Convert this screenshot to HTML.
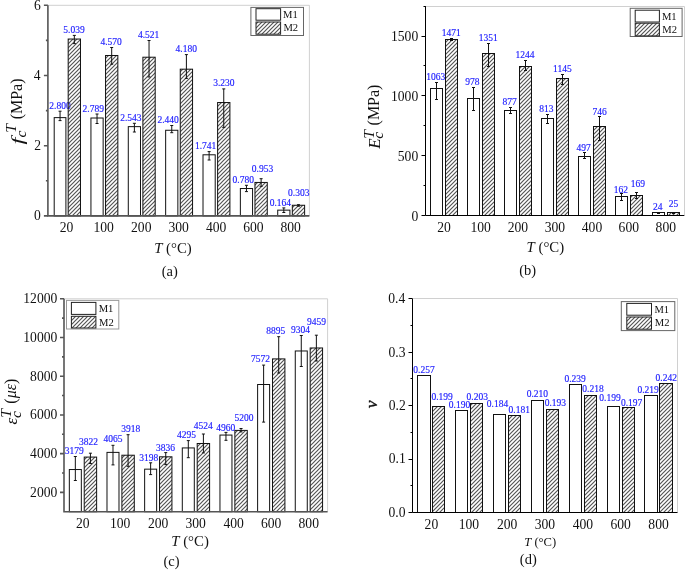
<!DOCTYPE html><html><head><meta charset="utf-8"><title>chart</title><style>html,body{margin:0;padding:0;background:#fff;overflow:hidden}svg{display:block}</style></head><body>
<svg style="will-change:transform" width="685" height="570" viewBox="0 0 685 570" font-family="Liberation Serif, serif">
<defs><pattern id="h" patternUnits="userSpaceOnUse" width="4" height="4"><path d="M-1,1 L1,-1 M0,4 L4,0 M3,5 L5,3" stroke="#555" stroke-width="1.2"/></pattern></defs>
<rect width="685" height="570" fill="#fff"/>
<g>
<path d="M47.9,5.3H309.4V215.9" fill="none" stroke="#d0d0d0" stroke-width="1"/>
<rect x="54.2" y="117.62" width="11.7" height="98.28" fill="#fff" stroke="#111" stroke-width="1"/>
<path d="M60.05,111.2V120.6M58.55,111.2h3M58.55,120.6h3" stroke="#111" stroke-width="1" fill="none"/>
<rect x="90.94" y="118.01" width="12.2" height="97.89" fill="#fff" stroke="#111" stroke-width="1"/>
<path d="M97.04,114V123.5M95.54,114h3M95.54,123.5h3" stroke="#111" stroke-width="1" fill="none"/>
<rect x="128.29" y="126.64" width="12.2" height="89.26" fill="#fff" stroke="#111" stroke-width="1"/>
<path d="M134.39,123.3V132M132.89,123.3h3M132.89,132h3" stroke="#111" stroke-width="1" fill="none"/>
<rect x="165.65" y="130.26" width="12.2" height="85.64" fill="#fff" stroke="#111" stroke-width="1"/>
<path d="M171.75,125.5V132.7M170.25,125.5h3M170.25,132.7h3" stroke="#111" stroke-width="1" fill="none"/>
<rect x="203.01" y="154.79" width="12.2" height="61.11" fill="#fff" stroke="#111" stroke-width="1"/>
<path d="M209.11,151.6V160M207.61,151.6h3M207.61,160h3" stroke="#111" stroke-width="1" fill="none"/>
<rect x="240.36" y="188.52" width="12.2" height="27.38" fill="#fff" stroke="#111" stroke-width="1"/>
<path d="M246.46,185.3V191.6M244.96,185.3h3M244.96,191.6h3" stroke="#111" stroke-width="1" fill="none"/>
<rect x="277.72" y="210.14" width="12.2" height="5.76" fill="#fff" stroke="#111" stroke-width="1"/>
<path d="M283.82,207.9V212.5M282.32,207.9h3M282.32,212.5h3" stroke="#111" stroke-width="1" fill="none"/>
<text x="49.33" y="108.79" font-size="9.5" fill="#1a1aff" stroke="#1a1aff" stroke-width="0.15">2.800</text>
<text x="82.5" y="111.59" font-size="9.5" fill="#1a1aff" stroke="#1a1aff" stroke-width="0.15">2.789</text>
<text x="120.24" y="120.83" font-size="9.5" fill="#1a1aff" stroke="#1a1aff" stroke-width="0.15">2.543</text>
<text x="157.43" y="123.29" font-size="9.5" fill="#1a1aff" stroke="#1a1aff" stroke-width="0.15">2.440</text>
<text x="194.93" y="149.42" font-size="9.5" fill="#1a1aff" stroke="#1a1aff" stroke-width="0.15">1.741</text>
<text x="232.56" y="182.99" font-size="9.5" fill="#1a1aff" stroke="#1a1aff" stroke-width="0.15">0.780</text>
<text x="269.66" y="205.99" font-size="9.5" fill="#1a1aff" stroke="#1a1aff" stroke-width="0.15">0.164</text>
<rect x="68.18" y="39.03" width="12.3" height="176.87" fill="url(#h)"/><rect x="68.18" y="39.03" width="12.3" height="176.87" fill="none" stroke="#111" stroke-width="1"/>
<path d="M74.33,35.4V43.6M72.83,35.4h3M72.83,43.6h3" stroke="#111" stroke-width="1" fill="none"/>
<rect x="105.54" y="55.49" width="12.3" height="160.41" fill="url(#h)"/><rect x="105.54" y="55.49" width="12.3" height="160.41" fill="none" stroke="#111" stroke-width="1"/>
<path d="M111.69,47.5V64.2M110.19,47.5h3M110.19,64.2h3" stroke="#111" stroke-width="1" fill="none"/>
<rect x="142.89" y="57.21" width="12.3" height="158.69" fill="url(#h)"/><rect x="142.89" y="57.21" width="12.3" height="158.69" fill="none" stroke="#111" stroke-width="1"/>
<path d="M149.04,40.5V77M147.54,40.5h3M147.54,77h3" stroke="#111" stroke-width="1" fill="none"/>
<rect x="180.25" y="69.18" width="12.3" height="146.72" fill="url(#h)"/><rect x="180.25" y="69.18" width="12.3" height="146.72" fill="none" stroke="#111" stroke-width="1"/>
<path d="M186.4,54.6V78.4M184.9,54.6h3M184.9,78.4h3" stroke="#111" stroke-width="1" fill="none"/>
<rect x="217.61" y="102.53" width="12.3" height="113.37" fill="url(#h)"/><rect x="217.61" y="102.53" width="12.3" height="113.37" fill="none" stroke="#111" stroke-width="1"/>
<path d="M223.76,88.9V127.4M222.26,88.9h3M222.26,127.4h3" stroke="#111" stroke-width="1" fill="none"/>
<rect x="254.96" y="182.45" width="12.3" height="33.45" fill="url(#h)"/><rect x="254.96" y="182.45" width="12.3" height="33.45" fill="none" stroke="#111" stroke-width="1"/>
<path d="M261.11,178.7V186.3M259.61,178.7h3M259.61,186.3h3" stroke="#111" stroke-width="1" fill="none"/>
<rect x="292.32" y="205.26" width="12.3" height="10.64" fill="url(#h)"/><rect x="292.32" y="205.26" width="12.3" height="10.64" fill="none" stroke="#111" stroke-width="1"/>
<path d="M298.47,204.7V206.2M296.97,204.7h3M296.97,206.2h3" stroke="#111" stroke-width="1" fill="none"/>
<text x="63.33" y="32.99" font-size="9.5" fill="#1a1aff" stroke="#1a1aff" stroke-width="0.15">5.039</text>
<text x="100.45" y="45.24" font-size="9.5" fill="#1a1aff" stroke="#1a1aff" stroke-width="0.15">4.570</text>
<text x="137.91" y="38.38" font-size="9.5" fill="#1a1aff" stroke="#1a1aff" stroke-width="0.15">4.521</text>
<text x="175.6" y="51.94" font-size="9.5" fill="#1a1aff" stroke="#1a1aff" stroke-width="0.15">4.180</text>
<text x="213.17" y="86.24" font-size="9.5" fill="#1a1aff" stroke="#1a1aff" stroke-width="0.15">3.230</text>
<text x="251.77" y="171.64" font-size="9.5" fill="#1a1aff" stroke="#1a1aff" stroke-width="0.15">0.953</text>
<text x="288.07" y="196.49" font-size="9.5" fill="#1a1aff" stroke="#1a1aff" stroke-width="0.15">0.303</text>
<path d="M47.9,5.3V215.9H309.4" fill="none" stroke="#555" stroke-width="1.6"/>
<path d="M43.9,215.9H47.9M43.9,145.7H47.9M43.9,75.5H47.9M43.9,5.3H47.9M45.9,180.8H47.9M45.9,110.6H47.9M45.9,40.4H47.9" stroke="#555" stroke-width="1.6"/>
<text x="34.12" y="220.36" font-size="13.6" fill="#111">0</text>
<text x="34.35" y="150.2" font-size="13.6" fill="#111">2</text>
<text x="33.81" y="79.98" font-size="13.6" fill="#111">4</text>
<text x="34.01" y="9.74" font-size="13.6" fill="#111">6</text>
<text x="59.74" y="232.46" font-size="13.6" fill="#111">20</text>
<text x="93.4" y="232.46" font-size="13.6" fill="#111">100</text>
<text x="131.05" y="232.46" font-size="13.6" fill="#111">200</text>
<text x="168.38" y="232.46" font-size="13.6" fill="#111">300</text>
<text x="205.93" y="232.46" font-size="13.6" fill="#111">400</text>
<text x="243.13" y="232.46" font-size="13.6" fill="#111">600</text>
<text x="280.52" y="232.46" font-size="13.6" fill="#111">800</text>
<rect x="250.9" y="7.4" width="52.6" height="28.1" fill="#fff" stroke="#666" stroke-width="1"/>
<rect x="256" y="8.7" width="24.6" height="11.5" fill="#fff" stroke="#222" stroke-width="1"/>
<rect x="256" y="22" width="24.6" height="12.2" fill="url(#h)"/><rect x="256" y="22" width="24.6" height="12.2" fill="none" stroke="#222" stroke-width="1"/>
<text x="283" y="18.4" font-size="10.6" fill="#111">M1</text>
<text x="283.38" y="31.41" font-size="10.6" fill="#111">M2</text>
</g>
<g>
<path d="M425.5,6.5H684.5V215.5" fill="none" stroke="#d0d0d0" stroke-width="1"/>
<rect x="430.5" y="88.5" width="12" height="127" fill="#fff" stroke="#111" stroke-width="1"/>
<path d="M436.5,82.5V99.5M435,82.5h3M435,99.5h3" stroke="#111" stroke-width="1" fill="none"/>
<rect x="467.5" y="98.5" width="12" height="117" fill="#fff" stroke="#111" stroke-width="1"/>
<path d="M473.5,87.5V110.5M472,87.5h3M472,110.5h3" stroke="#111" stroke-width="1" fill="none"/>
<rect x="504.5" y="110.5" width="12" height="105" fill="#fff" stroke="#111" stroke-width="1"/>
<path d="M510.5,107.5V113.5M509,107.5h3M509,113.5h3" stroke="#111" stroke-width="1" fill="none"/>
<rect x="541.5" y="118.5" width="12" height="97" fill="#fff" stroke="#111" stroke-width="1"/>
<path d="M547.5,114.5V123.5M546,114.5h3M546,123.5h3" stroke="#111" stroke-width="1" fill="none"/>
<rect x="578.5" y="156.5" width="12" height="59" fill="#fff" stroke="#111" stroke-width="1"/>
<path d="M584.5,152.5V158.5M583,152.5h3M583,158.5h3" stroke="#111" stroke-width="1" fill="none"/>
<rect x="615.5" y="196.5" width="12" height="19" fill="#fff" stroke="#111" stroke-width="1"/>
<path d="M621.5,193.5V200.5M620,193.5h3M620,200.5h3" stroke="#111" stroke-width="1" fill="none"/>
<rect x="652.5" y="212.5" width="12" height="3" fill="#fff" stroke="#111" stroke-width="1"/>
<path d="M658.5,212.5V213.5M657,212.5h3M657,213.5h3" stroke="#111" stroke-width="1" fill="none"/>
<text x="426.37" y="79.91" font-size="9.5" fill="#1a1aff" stroke="#1a1aff" stroke-width="0.15">1063</text>
<text x="465.2" y="84.76" font-size="9.5" fill="#1a1aff" stroke="#1a1aff" stroke-width="0.15">978</text>
<text x="502.48" y="105.01" font-size="9.5" fill="#1a1aff" stroke="#1a1aff" stroke-width="0.15">877</text>
<text x="539.33" y="112.11" font-size="9.5" fill="#1a1aff" stroke="#1a1aff" stroke-width="0.15">813</text>
<text x="576.52" y="150.75" font-size="9.5" fill="#1a1aff" stroke="#1a1aff" stroke-width="0.15">497</text>
<text x="613.67" y="192.95" font-size="9.5" fill="#1a1aff" stroke="#1a1aff" stroke-width="0.15">162</text>
<text x="653.07" y="210.15" font-size="9.5" fill="#1a1aff" stroke="#1a1aff" stroke-width="0.15">24</text>
<rect x="445.5" y="39.5" width="12" height="176" fill="url(#h)"/><rect x="445.5" y="39.5" width="12" height="176" fill="none" stroke="#111" stroke-width="1"/>
<path d="M451.5,38.5V40.5M450,38.5h3M450,40.5h3" stroke="#111" stroke-width="1" fill="none"/>
<rect x="482.5" y="53.5" width="12" height="162" fill="url(#h)"/><rect x="482.5" y="53.5" width="12" height="162" fill="none" stroke="#111" stroke-width="1"/>
<path d="M488.5,43.5V66.5M487,43.5h3M487,66.5h3" stroke="#111" stroke-width="1" fill="none"/>
<rect x="519.5" y="66.5" width="12" height="149" fill="url(#h)"/><rect x="519.5" y="66.5" width="12" height="149" fill="none" stroke="#111" stroke-width="1"/>
<path d="M525.5,60.5V70.5M524,60.5h3M524,70.5h3" stroke="#111" stroke-width="1" fill="none"/>
<rect x="556.5" y="78.5" width="12" height="137" fill="url(#h)"/><rect x="556.5" y="78.5" width="12" height="137" fill="none" stroke="#111" stroke-width="1"/>
<path d="M562.5,74.5V84.5M561,74.5h3M561,84.5h3" stroke="#111" stroke-width="1" fill="none"/>
<rect x="593.5" y="126.5" width="12" height="89" fill="url(#h)"/><rect x="593.5" y="126.5" width="12" height="89" fill="none" stroke="#111" stroke-width="1"/>
<path d="M599.5,116.5V140.5M598,116.5h3M598,140.5h3" stroke="#111" stroke-width="1" fill="none"/>
<rect x="630.5" y="195.5" width="12" height="20" fill="url(#h)"/><rect x="630.5" y="195.5" width="12" height="20" fill="none" stroke="#111" stroke-width="1"/>
<path d="M636.5,192.5V198.5M635,192.5h3M635,198.5h3" stroke="#111" stroke-width="1" fill="none"/>
<rect x="667.5" y="212.5" width="12" height="3" fill="url(#h)"/><rect x="667.5" y="212.5" width="12" height="3" fill="none" stroke="#111" stroke-width="1"/>
<path d="M673.5,212.5V213.5M672,212.5h3M672,213.5h3" stroke="#111" stroke-width="1" fill="none"/>
<text x="441.82" y="35.74" font-size="9.5" fill="#1a1aff" stroke="#1a1aff" stroke-width="0.15">1471</text>
<text x="478.82" y="41.15" font-size="9.5" fill="#1a1aff" stroke="#1a1aff" stroke-width="0.15">1351</text>
<text x="515.56" y="57.8" font-size="9.5" fill="#1a1aff" stroke="#1a1aff" stroke-width="0.15">1244</text>
<text x="553.12" y="72.44" font-size="9.5" fill="#1a1aff" stroke="#1a1aff" stroke-width="0.15">1145</text>
<text x="592.4" y="114.5" font-size="9.5" fill="#1a1aff" stroke="#1a1aff" stroke-width="0.15">746</text>
<text x="630.75" y="187.4" font-size="9.5" fill="#1a1aff" stroke="#1a1aff" stroke-width="0.15">169</text>
<text x="668.83" y="206.8" font-size="9.5" fill="#1a1aff" stroke="#1a1aff" stroke-width="0.15">25</text>
<path d="M425.5,6.1V215.5H684.3" fill="none" stroke="#000" stroke-width="1.0"/>
<path d="M421.5,215.5H425.5M421.5,155.5H425.5M421.5,95.5H425.5M421.5,36.5H425.5M423.5,185.5H425.5M423.5,125.5H425.5M423.5,65.5H425.5M423.5,6.5H425.5" stroke="#000" stroke-width="1.0"/>
<text x="411.42" y="220.96" font-size="13.6" fill="#111">0</text>
<text x="397.82" y="161.13" font-size="13.6" fill="#111">500</text>
<text x="391.02" y="101.3" font-size="13.6" fill="#111">1000</text>
<text x="391.02" y="41.47" font-size="13.6" fill="#111">1500</text>
<text x="437.15" y="232.41" font-size="13.6" fill="#111">20</text>
<text x="470.42" y="232.41" font-size="13.6" fill="#111">100</text>
<text x="507.69" y="232.41" font-size="13.6" fill="#111">200</text>
<text x="544.63" y="232.41" font-size="13.6" fill="#111">300</text>
<text x="581.8" y="232.41" font-size="13.6" fill="#111">400</text>
<text x="618.61" y="232.41" font-size="13.6" fill="#111">600</text>
<text x="655.61" y="232.41" font-size="13.6" fill="#111">800</text>
<rect x="630.2" y="8.3" width="51.9" height="28.2" fill="#fff" stroke="#666" stroke-width="1"/>
<rect x="635.2" y="10.2" width="24.2" height="11.8" fill="#fff" stroke="#222" stroke-width="1"/>
<rect x="635.2" y="23.2" width="24.2" height="12.7" fill="url(#h)"/><rect x="635.2" y="23.2" width="24.2" height="12.7" fill="none" stroke="#222" stroke-width="1"/>
<text x="661.9" y="19.85" font-size="10.6" fill="#111">M1</text>
<text x="662.28" y="32.91" font-size="10.6" fill="#111">M2</text>
</g>
<g>
<path d="M64,298.8H327.6V511.7" fill="none" stroke="#d0d0d0" stroke-width="1"/>
<rect x="69.33" y="469.53" width="12" height="42.17" fill="#fff" stroke="#111" stroke-width="1"/>
<path d="M75.33,456.5V480.5M73.83,456.5h3M73.83,480.5h3" stroke="#111" stroke-width="1" fill="none"/>
<rect x="106.99" y="452.38" width="12" height="59.32" fill="#fff" stroke="#111" stroke-width="1"/>
<path d="M112.99,445.3V464.9M111.49,445.3h3M111.49,464.9h3" stroke="#111" stroke-width="1" fill="none"/>
<rect x="144.64" y="469.16" width="12" height="42.54" fill="#fff" stroke="#111" stroke-width="1"/>
<path d="M150.64,462.8V474.6M149.14,462.8h3M149.14,474.6h3" stroke="#111" stroke-width="1" fill="none"/>
<rect x="182.3" y="447.93" width="12" height="63.77" fill="#fff" stroke="#111" stroke-width="1"/>
<path d="M188.3,440.6V457.7M186.8,440.6h3M186.8,457.7h3" stroke="#111" stroke-width="1" fill="none"/>
<rect x="219.96" y="435.06" width="12" height="76.64" fill="#fff" stroke="#111" stroke-width="1"/>
<path d="M225.96,432.4V440.3M224.46,432.4h3M224.46,440.3h3" stroke="#111" stroke-width="1" fill="none"/>
<rect x="257.61" y="384.5" width="12" height="127.2" fill="#fff" stroke="#111" stroke-width="1"/>
<path d="M263.61,365.1V422.1M262.11,365.1h3M262.11,422.1h3" stroke="#111" stroke-width="1" fill="none"/>
<rect x="295.27" y="350.98" width="12" height="160.72" fill="#fff" stroke="#111" stroke-width="1"/>
<path d="M301.27,335.5V366.5M299.77,335.5h3M299.77,366.5h3" stroke="#111" stroke-width="1" fill="none"/>
<text x="64.67" y="453.75" font-size="9.5" fill="#1a1aff" stroke="#1a1aff" stroke-width="0.15">3179</text>
<text x="103.44" y="442.36" font-size="9.5" fill="#1a1aff" stroke="#1a1aff" stroke-width="0.15">4065</text>
<text x="139.3" y="460.51" font-size="9.5" fill="#1a1aff" stroke="#1a1aff" stroke-width="0.15">3198</text>
<text x="176.89" y="438.4" font-size="9.5" fill="#1a1aff" stroke="#1a1aff" stroke-width="0.15">4295</text>
<text x="216.24" y="430.91" font-size="9.5" fill="#1a1aff" stroke="#1a1aff" stroke-width="0.15">4960</text>
<text x="251" y="362.3" font-size="9.5" fill="#1a1aff" stroke="#1a1aff" stroke-width="0.15">7572</text>
<text x="291.07" y="332.86" font-size="9.5" fill="#1a1aff" stroke="#1a1aff" stroke-width="0.15">9304</text>
<rect x="84.23" y="457.08" width="12.4" height="54.62" fill="url(#h)"/><rect x="84.23" y="457.08" width="12.4" height="54.62" fill="none" stroke="#111" stroke-width="1"/>
<path d="M90.43,453.2V463.5M88.93,453.2h3M88.93,463.5h3" stroke="#111" stroke-width="1" fill="none"/>
<rect x="121.89" y="455.22" width="12.4" height="56.48" fill="url(#h)"/><rect x="121.89" y="455.22" width="12.4" height="56.48" fill="none" stroke="#111" stroke-width="1"/>
<path d="M128.09,434.7V466.3M126.59,434.7h3M126.59,466.3h3" stroke="#111" stroke-width="1" fill="none"/>
<rect x="159.54" y="456.81" width="12.4" height="54.89" fill="url(#h)"/><rect x="159.54" y="456.81" width="12.4" height="54.89" fill="none" stroke="#111" stroke-width="1"/>
<path d="M165.74,452.6V464.6M164.24,452.6h3M164.24,464.6h3" stroke="#111" stroke-width="1" fill="none"/>
<rect x="197.2" y="443.49" width="12.4" height="68.21" fill="url(#h)"/><rect x="197.2" y="443.49" width="12.4" height="68.21" fill="none" stroke="#111" stroke-width="1"/>
<path d="M203.4,434V452.9M201.9,434h3M201.9,452.9h3" stroke="#111" stroke-width="1" fill="none"/>
<rect x="234.86" y="430.41" width="12.4" height="81.29" fill="url(#h)"/><rect x="234.86" y="430.41" width="12.4" height="81.29" fill="none" stroke="#111" stroke-width="1"/>
<path d="M241.06,428.5V431.9M239.56,428.5h3M239.56,431.9h3" stroke="#111" stroke-width="1" fill="none"/>
<rect x="272.51" y="358.9" width="12.4" height="152.8" fill="url(#h)"/><rect x="272.51" y="358.9" width="12.4" height="152.8" fill="none" stroke="#111" stroke-width="1"/>
<path d="M278.71,336.7V373M277.21,336.7h3M277.21,373h3" stroke="#111" stroke-width="1" fill="none"/>
<rect x="310.17" y="347.98" width="12.4" height="163.72" fill="url(#h)"/><rect x="310.17" y="347.98" width="12.4" height="163.72" fill="none" stroke="#111" stroke-width="1"/>
<path d="M316.37,335.2V361M314.87,335.2h3M314.87,361h3" stroke="#111" stroke-width="1" fill="none"/>
<text x="79.03" y="444.71" font-size="9.5" fill="#1a1aff" stroke="#1a1aff" stroke-width="0.15">3822</text>
<text x="121.3" y="432.21" font-size="9.5" fill="#1a1aff" stroke="#1a1aff" stroke-width="0.15">3918</text>
<text x="156.11" y="450.51" font-size="9.5" fill="#1a1aff" stroke="#1a1aff" stroke-width="0.15">3836</text>
<text x="193.63" y="428.6" font-size="9.5" fill="#1a1aff" stroke="#1a1aff" stroke-width="0.15">4524</text>
<text x="234.6" y="421.06" font-size="9.5" fill="#1a1aff" stroke="#1a1aff" stroke-width="0.15">5200</text>
<text x="266.35" y="334.46" font-size="9.5" fill="#1a1aff" stroke="#1a1aff" stroke-width="0.15">8895</text>
<text x="306.89" y="325.4" font-size="9.5" fill="#1a1aff" stroke="#1a1aff" stroke-width="0.15">9459</text>
<path d="M64,298.8V511.7H327.6" fill="none" stroke="#555" stroke-width="1.6"/>
<path d="M60,492.35H64M60,453.64H64M60,414.93H64M60,376.22H64M60,337.51H64M60,298.8H64M62,472.99H64M62,434.28H64M62,395.57H64M62,356.86H64M62,318.15H64" stroke="#555" stroke-width="1.6"/>
<text x="30.12" y="496.8" font-size="13.6" fill="#111">2000</text>
<text x="30.12" y="458.09" font-size="13.6" fill="#111">4000</text>
<text x="30.12" y="419.38" font-size="13.6" fill="#111">6000</text>
<text x="30.12" y="380.67" font-size="13.6" fill="#111">8000</text>
<text x="23.32" y="341.96" font-size="13.6" fill="#111">10000</text>
<text x="23.32" y="303.26" font-size="13.6" fill="#111">12000</text>
<text x="75.99" y="528.36" font-size="13.6" fill="#111">20</text>
<text x="109.95" y="528.36" font-size="13.6" fill="#111">100</text>
<text x="147.9" y="528.36" font-size="13.6" fill="#111">200</text>
<text x="185.53" y="528.36" font-size="13.6" fill="#111">300</text>
<text x="223.38" y="528.36" font-size="13.6" fill="#111">400</text>
<text x="260.88" y="528.36" font-size="13.6" fill="#111">600</text>
<text x="298.57" y="528.36" font-size="13.6" fill="#111">800</text>
<rect x="66.5" y="300.4" width="52.3" height="28.6" fill="#fff" stroke="#999" stroke-width="1"/>
<rect x="71.4" y="302.4" width="24.5" height="12" fill="#fff" stroke="#222" stroke-width="1"/>
<rect x="71.4" y="316.3" width="24.5" height="11.7" fill="url(#h)"/><rect x="71.4" y="316.3" width="24.5" height="11.7" fill="none" stroke="#222" stroke-width="1"/>
<text x="98.7" y="312.05" font-size="10.6" fill="#111">M1</text>
<text x="99.08" y="325.51" font-size="10.6" fill="#111">M2</text>
</g>
<g>
<path d="M412.5,298.5H677.5V512.5" fill="none" stroke="#d0d0d0" stroke-width="1"/>
<rect x="417.5" y="375.5" width="13" height="137" fill="#fff" stroke="#111" stroke-width="1"/>
<rect x="455.5" y="410.5" width="12" height="102" fill="#fff" stroke="#111" stroke-width="1"/>
<rect x="493.5" y="414.5" width="12" height="98" fill="#fff" stroke="#111" stroke-width="1"/>
<rect x="531.5" y="400.5" width="12" height="112" fill="#fff" stroke="#111" stroke-width="1"/>
<rect x="569.5" y="384.5" width="12" height="128" fill="#fff" stroke="#111" stroke-width="1"/>
<rect x="607.5" y="406.5" width="12" height="106" fill="#fff" stroke="#111" stroke-width="1"/>
<rect x="644.5" y="395.5" width="13" height="117" fill="#fff" stroke="#111" stroke-width="1"/>
<text x="413.27" y="372.59" font-size="9.5" fill="#1a1aff" stroke="#1a1aff" stroke-width="0.15">0.257</text>
<text x="448.86" y="408.24" font-size="9.5" fill="#1a1aff" stroke="#1a1aff" stroke-width="0.15">0.190</text>
<text x="486.81" y="407.44" font-size="9.5" fill="#1a1aff" stroke="#1a1aff" stroke-width="0.15">0.184</text>
<text x="526.66" y="396.94" font-size="9.5" fill="#1a1aff" stroke="#1a1aff" stroke-width="0.15">0.210</text>
<text x="564.43" y="382.09" font-size="9.5" fill="#1a1aff" stroke="#1a1aff" stroke-width="0.15">0.239</text>
<text x="599.33" y="400.59" font-size="9.5" fill="#1a1aff" stroke="#1a1aff" stroke-width="0.15">0.199</text>
<text x="637.48" y="392.79" font-size="9.5" fill="#1a1aff" stroke="#1a1aff" stroke-width="0.15">0.219</text>
<rect x="432.5" y="406.5" width="12" height="106" fill="url(#h)"/><rect x="432.5" y="406.5" width="12" height="106" fill="none" stroke="#111" stroke-width="1"/>
<rect x="470.5" y="403.5" width="12" height="109" fill="url(#h)"/><rect x="470.5" y="403.5" width="12" height="109" fill="none" stroke="#111" stroke-width="1"/>
<rect x="508.5" y="415.5" width="12" height="97" fill="url(#h)"/><rect x="508.5" y="415.5" width="12" height="97" fill="none" stroke="#111" stroke-width="1"/>
<rect x="546.5" y="409.5" width="12" height="103" fill="url(#h)"/><rect x="546.5" y="409.5" width="12" height="103" fill="none" stroke="#111" stroke-width="1"/>
<rect x="584.5" y="395.5" width="12" height="117" fill="url(#h)"/><rect x="584.5" y="395.5" width="12" height="117" fill="none" stroke="#111" stroke-width="1"/>
<rect x="622.5" y="407.5" width="12" height="105" fill="url(#h)"/><rect x="622.5" y="407.5" width="12" height="105" fill="none" stroke="#111" stroke-width="1"/>
<rect x="659.5" y="383.5" width="13" height="129" fill="url(#h)"/><rect x="659.5" y="383.5" width="13" height="129" fill="none" stroke="#111" stroke-width="1"/>
<text x="431.38" y="399.84" font-size="9.5" fill="#1a1aff" stroke="#1a1aff" stroke-width="0.15">0.199</text>
<text x="466.52" y="399.84" font-size="9.5" fill="#1a1aff" stroke="#1a1aff" stroke-width="0.15">0.203</text>
<text x="508.57" y="413.39" font-size="9.5" fill="#1a1aff" stroke="#1a1aff" stroke-width="0.15">0.181</text>
<text x="544.72" y="406.34" font-size="9.5" fill="#1a1aff" stroke="#1a1aff" stroke-width="0.15">0.193</text>
<text x="582.26" y="391.84" font-size="9.5" fill="#1a1aff" stroke="#1a1aff" stroke-width="0.15">0.218</text>
<text x="620.92" y="405.64" font-size="9.5" fill="#1a1aff" stroke="#1a1aff" stroke-width="0.15">0.197</text>
<text x="655.54" y="380.89" font-size="9.5" fill="#1a1aff" stroke="#1a1aff" stroke-width="0.15">0.242</text>
<path d="M412.5,298.7V512.5H677.5" fill="none" stroke="#000" stroke-width="1.0"/>
<path d="M408.5,512.5H412.5M408.5,459.5H412.5M408.5,405.5H412.5M408.5,352.5H412.5M408.5,298.5H412.5M410.5,485.5H412.5M410.5,432.5H412.5M410.5,378.5H412.5M410.5,325.5H412.5" stroke="#000" stroke-width="1.0"/>
<text x="388.52" y="516.93" font-size="13.6" fill="#111">0.0</text>
<text x="388.82" y="463.48" font-size="13.6" fill="#111">0.1</text>
<text x="388.75" y="410.03" font-size="13.6" fill="#111">0.2</text>
<text x="388.53" y="356.58" font-size="13.6" fill="#111">0.3</text>
<text x="388.21" y="303.13" font-size="13.6" fill="#111">0.4</text>
<text x="424.59" y="528.91" font-size="13.6" fill="#111">20</text>
<text x="458.75" y="528.91" font-size="13.6" fill="#111">100</text>
<text x="496.9" y="528.91" font-size="13.6" fill="#111">200</text>
<text x="534.73" y="528.91" font-size="13.6" fill="#111">300</text>
<text x="572.78" y="528.91" font-size="13.6" fill="#111">400</text>
<text x="610.48" y="528.91" font-size="13.6" fill="#111">600</text>
<text x="648.37" y="528.91" font-size="13.6" fill="#111">800</text>
<rect x="621.3" y="301.6" width="53.5" height="29" fill="#fff" stroke="#666" stroke-width="1"/>
<rect x="626.8" y="303.4" width="24.7" height="11.8" fill="#fff" stroke="#222" stroke-width="1"/>
<rect x="626.8" y="317" width="24.7" height="12.2" fill="url(#h)"/><rect x="626.8" y="317" width="24.7" height="12.2" fill="none" stroke="#222" stroke-width="1"/>
<text x="654.4" y="313.3" font-size="10.6" fill="#111">M1</text>
<text x="654.78" y="326.11" font-size="10.6" fill="#111">M2</text>
</g>
<text x="154.2" y="252.66" font-size="14.8" fill="#111"><tspan font-style="italic">T</tspan> (°C)</text>
<text x="526.6" y="252.11" font-size="14.8" fill="#111"><tspan font-style="italic">T</tspan> (°C)</text>
<text x="171.25" y="546.41" font-size="14.8" fill="#111"><tspan font-style="italic">T</tspan> (°C)</text>
<text x="524.22" y="545.98" font-size="12.6" fill="#111"><tspan font-style="italic">T</tspan> (°C)</text>
<text x="161.7" y="275.64" font-size="14.5" fill="#111">(a)</text>
<text x="519.2" y="275.44" font-size="14.5" fill="#111">(b)</text>
<text x="163.4" y="566.24" font-size="14.5" fill="#111">(c)</text>
<text x="519.85" y="563.84" font-size="14.5" fill="#111">(d)</text>
<text transform="translate(22.3,119.34) rotate(-90)" font-size="16" fill="#111">(MPa)</text>
<text transform="translate(22.83,144.58) rotate(-90) scale(1.45,1)" font-size="17" fill="#111"><tspan font-style="italic">f</tspan></text>
<text transform="translate(26.45,137.42) rotate(-90)" font-size="15.6" fill="#111"><tspan font-style="italic">c</tspan></text>
<text transform="translate(16.41,132.66) rotate(-90)" font-size="15.6" fill="#111"><tspan font-style="italic">T</tspan></text>
<text transform="translate(379.4,125.44) rotate(-90)" font-size="16" fill="#111">(MPa)</text>
<text transform="translate(379.52,148.66) rotate(-90)" font-size="17" fill="#111"><tspan font-style="italic">E</tspan></text>
<text transform="translate(383.35,138.77) rotate(-90)" font-size="15.6" fill="#111"><tspan font-style="italic">c</tspan></text>
<text transform="translate(373.61,138.86) rotate(-90)" font-size="15.6" fill="#111"><tspan font-style="italic">T</tspan></text>
<text transform="translate(16.34,403.7) rotate(-90)" font-size="16" fill="#111">(<tspan font-style="italic">με</tspan>)</text>
<text transform="translate(16.97,424.62) rotate(-90)" font-size="17" fill="#111"><tspan font-style="italic">ε</tspan></text>
<text transform="translate(20.65,418.12) rotate(-90)" font-size="15.6" fill="#111"><tspan font-style="italic">c</tspan></text>
<text transform="translate(11.11,417.66) rotate(-90)" font-size="15.6" fill="#111"><tspan font-style="italic">T</tspan></text>
<text transform="translate(376.93,408.25) rotate(-90)" font-size="17.5" fill="#111" stroke="#111" stroke-width="0.35"><tspan font-style="italic">ν</tspan></text>
</svg></body></html>
